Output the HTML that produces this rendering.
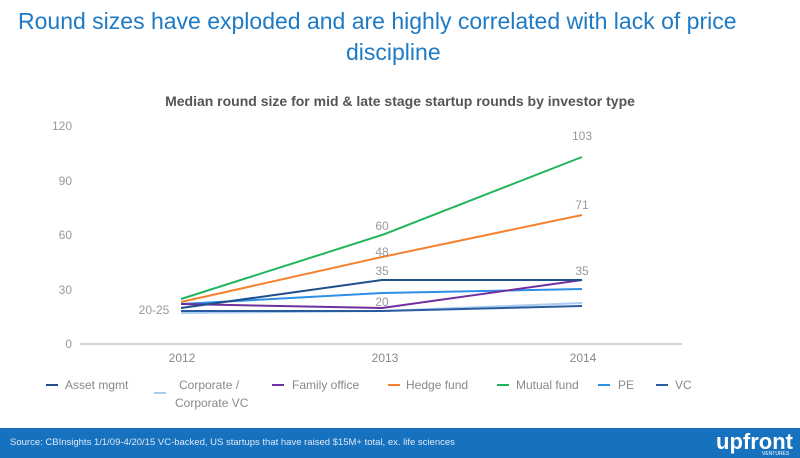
<!DOCTYPE html>
<html><head><style>
body{margin:0;width:800px;height:458px;background:#fff;font-family:"Liberation Sans",sans-serif;overflow:hidden;position:relative}
.t{position:absolute;left:18px;top:6px;font-size:23px;color:#1e7ac4;line-height:31px;width:790px;white-space:nowrap}
.foot{position:absolute;left:0;top:428px;width:800px;height:30px;background:#1672be;color:#dfe9f5;font-size:9.5px}
</style></head><body>
<div class="t">Round sizes have exploded and are highly correlated with lack of price<br><span style="margin-left:328px">discipline</span></div>
<svg width="800" height="428" style="position:absolute;left:0;top:0" font-family="Liberation Sans, sans-serif">
<text x="400" y="106" text-anchor="middle" font-size="14" font-weight="bold" fill="#555">Median round size for mid &amp; late stage startup rounds by investor type</text>
<g font-size="12" fill="#999" text-anchor="end">
<text x="72" y="130">120</text><text x="72" y="185">90</text><text x="72" y="239">60</text><text x="72" y="294">30</text><text x="72" y="348">0</text>
</g>
<line x1="80" y1="344" x2="682" y2="344" stroke="#aaa" stroke-width="1"/>
<g font-size="12" fill="#888" text-anchor="middle">
<text x="182" y="362">2012</text><text x="385" y="362">2013</text><text x="583" y="362">2014</text>
</g>
<g fill="none" stroke-width="2">
<polyline points="181,313 382,311 582,303" stroke="#a9cdf0"/>
<polyline points="181,311 382,311 582,306" stroke="#2a5d9f"/>
<polyline points="181,304 382,293 582,289" stroke="#2e8ee8"/>
<polyline points="181,304 382,308 582,280" stroke="#7030a0"/>
<polyline points="181,308 382,280 582,280" stroke="#1f4e8c"/>
<polyline points="181,302 382,257 582,215" stroke="#f5822f"/>
<polyline points="181,299 382,235 582,157" stroke="#1fb65a"/>
</g>
<g font-size="12" fill="#999" text-anchor="middle">
<text x="382" y="230">60</text><text x="382" y="256">48</text><text x="382" y="275">35</text><text x="382" y="306">20</text>
<text x="582" y="140">103</text><text x="582" y="209">71</text><text x="582" y="275">35</text>
<text x="154" y="314">20-25</text>
</g>
<g font-size="12" fill="#888">
<line x1="46" y1="385" x2="58" y2="385" stroke="#1f4e8c" stroke-width="2"/><text x="65" y="389">Asset mgmt</text>
<line x1="154" y1="393" x2="166" y2="393" stroke="#a9cdf0" stroke-width="2"/><text x="179" y="389">Corporate /</text><text x="175" y="407">Corporate VC</text>
<line x1="272" y1="385" x2="284" y2="385" stroke="#7030a0" stroke-width="2"/><text x="292" y="389">Family office</text>
<line x1="388" y1="385" x2="400" y2="385" stroke="#f5822f" stroke-width="2"/><text x="406" y="389">Hedge fund</text>
<line x1="497" y1="385" x2="509" y2="385" stroke="#1fb65a" stroke-width="2"/><text x="516" y="389">Mutual fund</text>
<line x1="598" y1="385" x2="610" y2="385" stroke="#2e8ee8" stroke-width="2"/><text x="618" y="389">PE</text>
<line x1="656" y1="385" x2="668" y2="385" stroke="#2a5d9f" stroke-width="2"/><text x="675" y="389">VC</text>
</g>
</svg>
<div class="foot"><span style="position:absolute;left:10px;top:9px">Source: CBInsights 1/1/09-4/20/15 VC-backed, US startups that have raised $15M+ total, ex. life sciences</span>
<span style="position:absolute;left:716px;top:1px;font-size:22px;font-weight:bold;color:#fff">upfront</span>
<span style="position:absolute;left:762px;top:23px;font-size:5px;color:#fff">VENTURES</span></div>
</body></html>
